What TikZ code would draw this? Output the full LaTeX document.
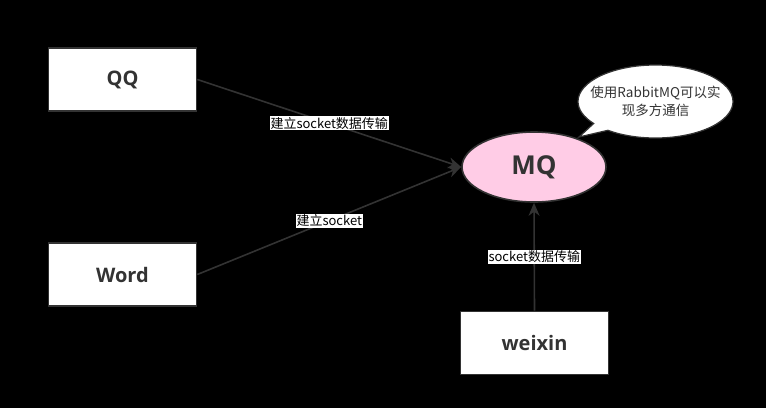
\documentclass[tikz,border=0pt]{standalone}
\usepackage{fontspec}
\setmainfont{Open Sans}
\newfontfamily\cjk{Noto Sans CJK SC}
\usetikzlibrary{arrows.meta,shapes.callouts,shapes.geometric}
\definecolor{edge}{HTML}{333333}
\definecolor{mqpink}{HTML}{FFCCE6}
\tikzset{
  appbox/.style={draw=edge, line width=1.6pt, fill=white, minimum width=148pt, minimum height=63pt, inner sep=0pt, text=edge, font=\fontsize{20}{24}\selectfont\bfseries},
  conn/.style={draw=edge, line width=1.6pt, -{Stealth[length=13pt,width=11pt]}},
  lbl/.style={fill=white, text=black, inner sep=1pt, font=\cjk\fontsize{13}{15}\selectfont},
}
\begin{document}
\begin{tikzpicture}[x=1pt,y=-1pt]
\fill[black] (0,0) rectangle (766,408);
\useasboundingbox (0,0) rectangle (766,408);
\node[appbox] (qq) at (122.5,79.5) {QQ};
\node[appbox] (word) at (122.5,274.5) {Word};
\node[appbox] (weixin) at (534.5,343) {weixin};
\node[ellipse, draw=edge, line width=1.6pt, fill=mqpink, minimum width=144pt, minimum height=70pt, inner sep=0pt, text=edge, font=\fontsize{26}{30}\selectfont\bfseries] (mq) at (534,167) {MQ};
\node[ellipse callout, draw=edge, line width=1.2pt, fill=white, minimum width=155pt, minimum height=73pt, inner sep=0pt, callout absolute pointer={(579,137)}] (bubble) at (655.5,101.5) {};
\node[align=center, text=edge, font=\cjk\fontsize{13.5}{18}\selectfont] (btext) at (bubble.center) {使用RabbitMQ可以实\\现多方通信};
\draw[conn] (qq.east) -- (mq.west) node[lbl, pos=0.5] (l1) {建立socket数据传输};
\draw[conn] (word.east) -- (mq.west) node[lbl, pos=0.5] (l2) {建立socket};
\draw[conn] (weixin.north) -- (mq.south) node[lbl, pos=0.5] (l3) {socket数据传输};
\end{tikzpicture}
\end{document}
